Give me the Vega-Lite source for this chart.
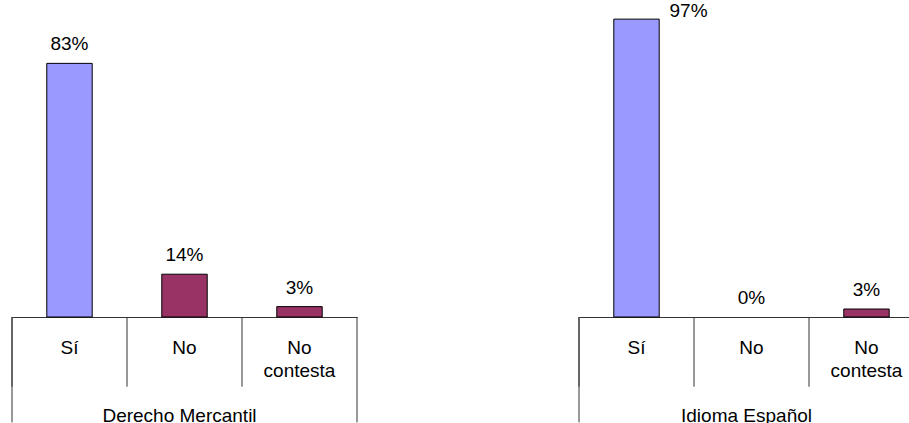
{
  "$schema": "https://vega.github.io/schema/vega-lite/v6.json",
  "padding": {"left": 11, "top": 2, "right": 0, "bottom": 0},
  "spacing": 222,
  "bounds": "flush",
  "config": {"view": {"stroke": null}, "font": "Liberation Sans",
    "axisX": {"ticks": false, "domain": true, "domainColor": "#333", "domainWidth": 1, "labelAngle": 0, "labelFont": "Liberation Sans", "labelFontSize": 19, "labelColor": "#000", "labelPadding": 21.6, "labelLineHeight": 23, "labelExpr": "split(datum.label, ' ')", "labelOverlap": false, "titleFont": "Liberation Sans", "titleFontSize": 19, "titleFontWeight": "normal", "titleColor": "#000", "titleBaseline": "alphabetic", "titleAlign": "center", "titleX": 167, "titleY": 104.7}
  },
  "hconcat": [
    {
      "width": 345,
      "height": 312,
      "data": {"values": [
        {"cat": "Sí", "value": 0.83},
        {"cat": "No", "value": 0.14},
        {"cat": "No contesta", "value": 0.034}
      ]},
      "layer": [
        {
          "transform": [{"filter": "datum.value > 0"}],
          "mark": {"type": "bar", "width": {"band": 0.395}, "stroke": "#000", "strokeWidth": 1},
          "encoding": {
            "x": {"field": "cat", "type": "nominal", "sort": ["Sí", "No", "No contesta"], "scale": {"paddingInner": 0, "paddingOuter": 0}, "title": "Derecho Mercantil"},
            "y": {"field": "value", "type": "quantitative", "scale": {"domain": [0, 1.021], "nice": false}, "axis": null},
            "color": {"field": "cat", "type": "nominal", "scale": {"domain": ["Sí", "No", "No contesta"], "range": ["#9999FF", "#993366", "#993366"]}, "legend": null}
          }
        },
        {
          "transform": [{"filter": "datum.value < 0.9"}],
          "mark": {"type": "text", "font": "Liberation Sans", "fontSize": 19, "color": "#000", "baseline": "alphabetic", "dy": -13},
          "encoding": {
            "x": {"field": "cat", "type": "nominal", "sort": ["Sí", "No", "No contesta"], "title": "Derecho Mercantil"},
            "y": {"field": "value", "type": "quantitative", "scale": {"domain": [0, 1.021], "nice": false}, "axis": null},
            "text": {"field": "value", "type": "quantitative", "format": ".0%"}
          }
        },
        {
          "mark": {"type": "rule", "color": "#333", "strokeWidth": 1},
          "encoding": {
            "x": {"field": "cat", "type": "nominal", "sort": ["Sí", "No", "No contesta"], "bandPosition": 0, "title": "Derecho Mercantil"},
            "y": {"datum": 0, "type": "quantitative", "scale": {"domain": [0, 1.021], "nice": false}, "axis": null},
            "y2": {"datum": -0.228}
          }
        },
        {
          "transform": [{"filter": "datum.cat == 'Sí'"}],
          "mark": {"type": "rule", "color": "#333", "strokeWidth": 1},
          "encoding": {
            "x": {"field": "cat", "type": "nominal", "sort": ["Sí", "No", "No contesta"], "bandPosition": 0, "title": "Derecho Mercantil"},
            "y": {"datum": 0, "type": "quantitative", "scale": {"domain": [0, 1.021], "nice": false}, "axis": null},
            "y2": {"datum": -0.345}
          }
        },
        {
          "transform": [{"filter": "datum.cat == 'No contesta'"}],
          "mark": {"type": "rule", "color": "#333", "strokeWidth": 1},
          "encoding": {
            "x": {"field": "cat", "type": "nominal", "sort": ["Sí", "No", "No contesta"], "bandPosition": 1, "title": "Derecho Mercantil"},
            "y": {"datum": 0, "type": "quantitative", "scale": {"domain": [0, 1.021], "nice": false}, "axis": null},
            "y2": {"datum": -0.345}
          }
        }
      ]
    },
    {
      "width": 345,
      "height": 312,
      "data": {"values": [
        {"cat": "Sí", "value": 0.97},
        {"cat": "No", "value": 0},
        {"cat": "No contesta", "value": 0.026}
      ]},
      "layer": [
        {
          "transform": [{"filter": "datum.value > 0"}],
          "mark": {"type": "bar", "width": {"band": 0.395}, "stroke": "#000", "strokeWidth": 1},
          "encoding": {
            "x": {"field": "cat", "type": "nominal", "sort": ["Sí", "No", "No contesta"], "scale": {"paddingInner": 0, "paddingOuter": 0}, "title": "Idioma Español"},
            "y": {"field": "value", "type": "quantitative", "scale": {"domain": [0, 1.016], "nice": false}, "axis": null},
            "color": {"field": "cat", "type": "nominal", "scale": {"domain": ["Sí", "No", "No contesta"], "range": ["#9999FF", "#993366", "#993366"]}, "legend": null}
          }
        },
        {
          "transform": [{"filter": "datum.value < 0.9"}],
          "mark": {"type": "text", "font": "Liberation Sans", "fontSize": 19, "color": "#000", "baseline": "alphabetic", "dy": -13},
          "encoding": {
            "x": {"field": "cat", "type": "nominal", "sort": ["Sí", "No", "No contesta"], "title": "Idioma Español"},
            "y": {"field": "value", "type": "quantitative", "scale": {"domain": [0, 1.016], "nice": false}, "axis": null},
            "text": {"field": "value", "type": "quantitative", "format": ".0%"}
          }
        },
        {
          "transform": [{"filter": "datum.value >= 0.9"}],
          "mark": {"type": "text", "font": "Liberation Sans", "fontSize": 19, "color": "#000", "baseline": "alphabetic", "align": "left", "dx": 33, "dy": -2},
          "encoding": {
            "x": {"field": "cat", "type": "nominal", "sort": ["Sí", "No", "No contesta"], "title": "Idioma Español"},
            "y": {"field": "value", "type": "quantitative", "scale": {"domain": [0, 1.016], "nice": false}, "axis": null},
            "text": {"field": "value", "type": "quantitative", "format": ".0%"}
          }
        },
        {
          "mark": {"type": "rule", "color": "#333", "strokeWidth": 1},
          "encoding": {
            "x": {"field": "cat", "type": "nominal", "sort": ["Sí", "No", "No contesta"], "bandPosition": 0, "title": "Idioma Español"},
            "y": {"datum": 0, "type": "quantitative", "scale": {"domain": [0, 1.016], "nice": false}, "axis": null},
            "y2": {"datum": -0.227}
          }
        },
        {
          "transform": [{"filter": "datum.cat == 'Sí'"}],
          "mark": {"type": "rule", "color": "#333", "strokeWidth": 1},
          "encoding": {
            "x": {"field": "cat", "type": "nominal", "sort": ["Sí", "No", "No contesta"], "bandPosition": 0, "title": "Idioma Español"},
            "y": {"datum": 0, "type": "quantitative", "scale": {"domain": [0, 1.016], "nice": false}, "axis": null},
            "y2": {"datum": -0.343}
          }
        },
        {
          "transform": [{"filter": "datum.cat == 'No contesta'"}],
          "mark": {"type": "rule", "color": "#333", "strokeWidth": 1},
          "encoding": {
            "x": {"field": "cat", "type": "nominal", "sort": ["Sí", "No", "No contesta"], "bandPosition": 1, "title": "Idioma Español"},
            "y": {"datum": 0, "type": "quantitative", "scale": {"domain": [0, 1.016], "nice": false}, "axis": null},
            "y2": {"datum": -0.343}
          }
        }
      ]
    }
  ]
}
